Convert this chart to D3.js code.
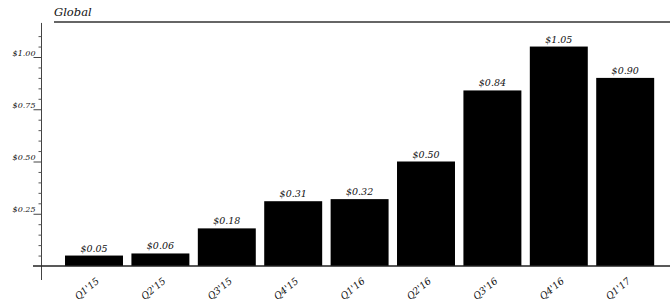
<!DOCTYPE html>
<html>
<head>
<meta charset="utf-8">
<script src="https://cdn.jsdelivr.net/npm/d3@7"></script>
<style>
  html, body { margin: 0; padding: 0; background: #fff; }
  svg { display: block; }
  text { font-family: "DejaVu Serif", serif; font-style: italic; fill: #111; }
</style>
</head>
<body>
<svg id="chart" width="672" height="305"></svg>
<script>
const title = "Global";
const categories = ["Q1'15", "Q2'15", "Q3'15", "Q4'15", "Q1'16", "Q2'16", "Q3'16", "Q4'16", "Q1'17"];
const values = [0.05, 0.06, 0.18, 0.31, 0.32, 0.50, 0.84, 1.05, 0.90];
const majorTicks = [0.25, 0.50, 0.75, 1.00];
const minorTicks = [0.05, 0.10, 0.15, 0.20, 0.30, 0.35, 0.40, 0.45, 0.55, 0.60, 0.65, 0.70, 0.80, 0.85, 0.90, 0.95, 1.05, 1.10];

const svg = d3.select("#chart");

const y = d3.scaleLinear().domain([0, 1]).range([266, 57]);
const x = d3.scaleBand().domain(categories).range([60.8, 658.4]).paddingInner(0.127).paddingOuter(0.0635);

const fmt = v => "$" + d3.format(".2f")(v);

// title
svg.append("text").attr("x", 54).attr("y", 15.5).attr("font-size", 11.5).text(title);
svg.append("line").attr("x1", 54).attr("x2", 670).attr("y1", 22).attr("y2", 22)
  .attr("stroke", "#333").attr("stroke-width", 1.6);

// y axis line
const axisX = 41.5;
svg.append("line").attr("x1", axisX).attr("x2", axisX)
  .attr("y1", y(1.163)).attr("y2", y(-0.067)).attr("stroke", "#444").attr("stroke-width", 1);

// minor ticks
const minorAxis = d3.axisLeft(y).tickValues(minorTicks).tickSize(3).tickFormat("");
const gMinor = svg.append("g").attr("transform", `translate(${axisX},0)`).call(minorAxis);
gMinor.select(".domain").remove();
gMinor.selectAll("line").attr("stroke", "#555");

// major ticks
const majorAxis = d3.axisLeft(y).tickValues(majorTicks).tickSize(8).tickPadding(6).tickFormat(fmt);
const gMajor = svg.append("g").attr("transform", `translate(${axisX},0)`).call(majorAxis);
gMajor.select(".domain").remove();
gMajor.selectAll("line").attr("stroke", "#444");
gMajor.selectAll("text").attr("font-family", "DejaVu Serif").attr("font-style", "italic")
  .attr("font-size", 8).attr("fill", "#111").attr("x", -6).attr("dy", "-0.25em");

// bars
svg.append("g").selectAll("rect").data(values).join("rect")
  .attr("x", (d, i) => x(categories[i]))
  .attr("width", x.bandwidth())
  .attr("y", d => y(d))
  .attr("height", d => y(0) - y(d))
  .attr("fill", "#000");

// value labels
svg.append("g").selectAll("text").data(values).join("text")
  .attr("x", (d, i) => x(categories[i]) + x.bandwidth() / 2)
  .attr("y", d => y(d) - 4)
  .attr("text-anchor", "middle")
  .attr("font-size", 9.5)
  .text(fmt);

// baseline
svg.append("line").attr("x1", 33).attr("x2", 670).attr("y1", y(0)).attr("y2", y(0))
  .attr("stroke", "#222").attr("stroke-width", 1.3);

// x labels
const xAxis = d3.axisBottom(x).tickSize(0).tickPadding(0);
const gX = svg.append("g").attr("transform", `translate(0,${y(0)})`).call(xAxis);
gX.select(".domain").remove();
gX.selectAll("text")
  .attr("font-family", "DejaVu Serif").attr("font-style", "italic")
  .attr("font-size", 9.5).attr("fill", "#111")
  .attr("text-anchor", "end")
  .attr("y", 0).attr("dy", 0)
  .attr("transform", "translate(6,16) rotate(-40)");
</script>
</body>
</html>
